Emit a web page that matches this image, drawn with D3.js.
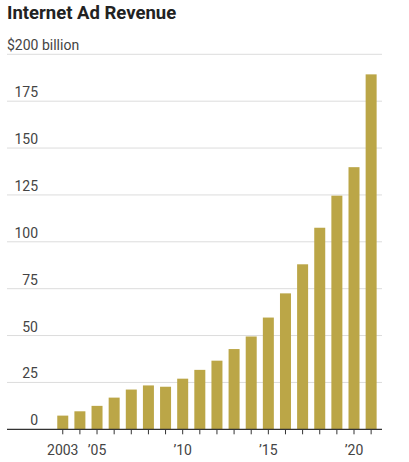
<!DOCTYPE html>
<html>
<head>
<meta charset="utf-8">
<script src="https://cdn.jsdelivr.net/npm/d3@7"></script>
<style>
  html, body { margin: 0; padding: 0; background: #fff; }
  svg { display: block; }
  text { font-family: Roboto, "Open Sans", sans-serif; }
</style>
</head>
<body>
<div id="chart"></div>
<script>
const years = [2003,2004,2005,2006,2007,2008,2009,2010,2011,2012,2013,2014,2015,2016,2017,2018,2019,2020,2021];
const revenue = [7.3,9.6,12.5,16.9,21.2,23.4,22.7,27.0,31.7,36.6,42.8,49.5,59.6,72.5,88.0,107.5,124.6,139.8,189.3];
const yTicks = [0,25,50,75,100,125,150,175,200];
const xLabelYears = [2003,2005,2010,2015,2020];
const xLabels = ["2003","\u201905","\u201910","\u201915","\u201920"];
const title = "Internet Ad Revenue";
const unitLabel = "$200 billion";

(function () {
const W = 409, H = 462;
const mLeft = 7, mRight = 382, mTop = 54.3, mBottom = 429.3;

const svg = d3.select("#chart").append("svg").attr("width", W).attr("height", H);

const x = d3.scaleBand().domain(years).range([48.7, 385.2]).paddingInner(0.358).paddingOuter(0.5);
const y = d3.scaleLinear().domain([0, 200]).range([mBottom, mTop]);

svg.append("text").attr("x", 7).attr("y", 18.5)
  .attr("font-family", "Lato, 'Open Sans', sans-serif")
  .attr("font-weight", "bold").attr("font-size", 18.5).attr("fill", "#222")
  .text(title);

// gridlines
svg.append("g").selectAll("line").data(yTicks.filter(d => d > 0)).join("line")
  .attr("x1", mLeft).attr("x2", mRight)
  .attr("y1", d => y(d)).attr("y2", d => y(d))
  .attr("stroke", "#dcdcdc").attr("stroke-width", 1);

// y labels
svg.append("g").selectAll("text").data(yTicks).join("text")
  .attr("x", d => d === 200 ? 7 : 38)
  .attr("y", d => y(d) - 4)
  .attr("text-anchor", d => d === 200 ? "start" : "end")
  .attr("font-size", 14).attr("fill", "#444")
  .text(d => d === 200 ? unitLabel : d);

// bars
svg.append("g").selectAll("rect").data(years).join("rect")
  .attr("x", d => x(d))
  .attr("width", x.bandwidth())
  .attr("y", (d, i) => y(revenue[i]))
  .attr("height", (d, i) => y(0) - y(revenue[i]))
  .attr("fill", "#bba647");

// x axis ticks
const xAxis = d3.axisBottom(x).tickSize(5).tickFormat(() => "");
const gx = svg.append("g").attr("transform", `translate(0,${mBottom})`).call(xAxis);
gx.select(".domain").remove();
gx.selectAll(".tick line").attr("stroke", "#333");
svg.append("line").attr("x1", mLeft).attr("x2", mRight).attr("y1", mBottom).attr("y2", mBottom)
  .attr("stroke", "#333").attr("stroke-width", 1.3);

svg.append("g").selectAll("text").data(xLabelYears).join("text")
  .attr("x", d => x(d) + x.bandwidth() / 2)
  .attr("y", 455)
  .attr("text-anchor", "middle")
  .attr("font-size", 14).attr("fill", "#444")
  .text((d, i) => xLabels[i]);
})();
</script>
</body>
</html>
